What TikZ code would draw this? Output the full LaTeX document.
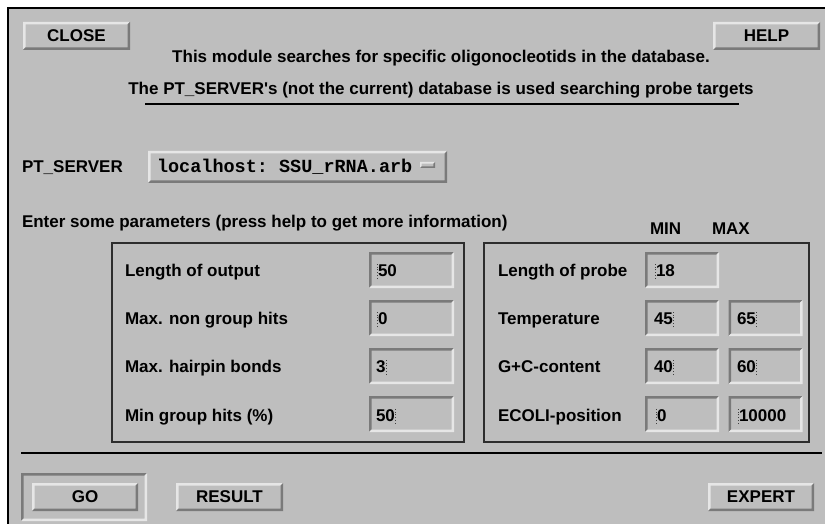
\documentclass[tikz,border=0pt]{standalone}
\usepackage{fontspec}
\setmainfont{Liberation Sans}[Ligatures=TeXOff]
\setmonofont{Liberation Mono}[Ligatures=TeXOff]
\definecolor{bg}{RGB}{190,190,190}
\definecolor{hi}{RGB}{230,230,230}
\definecolor{lo}{RGB}{122,122,122}
\definecolor{framec}{RGB}{45,45,45}
\tikzset{
  every node/.style={inner sep=0pt, outer sep=0pt},
  bevel width/.store in=\bvw, bevel width=2.5pt,
  ui/.style={font=\fontsize{17}{20}\selectfont\bfseries, text=black},
  mono/.style={font=\fontsize{18.5}{22}\selectfont\ttfamily\bfseries, text=black},
  bevelled/.style 2 args={fill=bg, path picture={
    \fill[#1] (path picture bounding box.south west) -- (path picture bounding box.north west)
      -- (path picture bounding box.north east)
      -- ([xshift=-\bvw,yshift=-\bvw]path picture bounding box.north east)
      -- ([xshift=\bvw,yshift=-\bvw]path picture bounding box.north west)
      -- ([xshift=\bvw,yshift=\bvw]path picture bounding box.south west) -- cycle;
    \fill[#2] (path picture bounding box.south west) -- (path picture bounding box.south east)
      -- (path picture bounding box.north east)
      -- ([xshift=-\bvw,yshift=-\bvw]path picture bounding box.north east)
      -- ([xshift=-\bvw,yshift=\bvw]path picture bounding box.south east)
      -- ([xshift=\bvw,yshift=\bvw]path picture bounding box.south west) -- cycle;
  }},
  raised/.style={bevelled={hi}{lo}},
  sunken/.style={bevelled={lo}{hi}},
  btn/.style={raised, minimum width=107pt, minimum height=28pt, ui},
  fieldL/.style={sunken, minimum width=85pt, minimum height=36pt},
  fieldR/.style={sunken, minimum width=74pt, minimum height=36pt},
  groupbox/.style={draw=framec, line width=1.2pt},
  lbl/.style={ui, anchor=base west},
  val/.style={ui, anchor=base west},
  cursor/.style={draw=black!75, line width=0.9pt, dotted},
  heavyline/.style={draw=black, line width=2.6pt},
}
\begin{document}
\begin{tikzpicture}[x=1pt,y=-1pt]
\useasboundingbox (0,0) rectangle (825,524);
\fill[white] (0,0) rectangle (825,524);
\fill[bg] (8,8) rectangle (825,524);
\draw[black, line width=2.4pt] (8,524) -- (8,8) -- (825,8);

% top buttons
\node[btn] (close) at (76.5,36) {CLOSE};
\node[btn] (help) at (766.5,36) {HELP};

% info texts
\node[ui, anchor=base] (info1) at (441,63) {This module searches for specific oligonocleotids in the database.};
\node[ui, anchor=base] (info2) at (441,95) {The PT\_SERVER's (not the current) database is used searching probe targets};
\coordinate (ulA) at (145,104);
\coordinate (ulB) at (739,104);
\draw[heavyline, line width=2.4pt] (ulA) -- (ulB);

% PT server selector
\node[lbl] (ptlabel) at (22,172) {PT\_SERVER};
\node[raised, minimum width=299pt, minimum height=32pt] (ptbox) at (297.5,167) {};
\node[mono, anchor=base west] (ptval) at (157,172) {localhost: SSU\_rRNA.arb};
\node[raised, bevel width=1.6pt, minimum width=15pt, minimum height=6pt] (pticon) at (427.5,165) {};

% parameters header
\node[lbl] (enter) at (22,227) {Enter some parameters (press help to get more information)};
\node[lbl] (minh) at (650,234) {MIN};
\node[lbl] (maxh) at (712,234) {MAX};

% group boxes
\node[groupbox, minimum width=352pt, minimum height=199pt] (gleft) at (288,342.5) {};
\node[groupbox, minimum width=325pt, minimum height=199pt] (gright) at (646.5,342.5) {};

% left labels
\node[lbl] (l1) at (125,276) {Length of output};
\node[lbl] (l2) at (125,324) {Max. non group hits};
\node[lbl] (l3) at (125,372) {Max. hairpin bonds};
\node[lbl] (l4) at (125,421) {Min group hits (\%)};

% left fields
\node[fieldL] (fl1) at (411.5,270) {};
\node[fieldL] (fl2) at (411.5,318) {};
\node[fieldL] (fl3) at (411.5,366) {};
\node[fieldL] (fl4) at (411.5,414) {};
\node[val] (vl1) at (378,276) {50};
\node[val] (vl2) at (378,324) {0};
\node[val] (vl3) at (376,372) {3};
\node[val] (vl4) at (376,421) {50};
\draw[cursor] ([xshift=-1pt,yshift=-3pt]vl1.base west) -- ([xshift=-1pt,yshift=14pt]vl1.base west);
\draw[cursor] ([xshift=-1pt,yshift=-3pt]vl2.base west) -- ([xshift=-1pt,yshift=14pt]vl2.base west);
\draw[cursor] ([xshift=1pt,yshift=-3pt]vl3.base east) -- ([xshift=1pt,yshift=14pt]vl3.base east);
\draw[cursor] ([xshift=1pt,yshift=-3pt]vl4.base east) -- ([xshift=1pt,yshift=14pt]vl4.base east);

% right labels
\node[lbl] (r1) at (498,276) {Length of probe};
\node[lbl] (r2) at (498,324) {Temperature};
\node[lbl] (r3) at (498,372) {G+C-content};
\node[lbl] (r4) at (498,421) {ECOLI-position};

% right fields
\node[fieldR] (fmin1) at (682,270) {};
\node[fieldR] (fmin2) at (682,318) {};
\node[fieldR] (fmin3) at (682,366) {};
\node[fieldR] (fmin4) at (682,414) {};
\node[fieldR] (fmax2) at (765.5,318) {};
\node[fieldR] (fmax3) at (765.5,366) {};
\node[fieldR] (fmax4) at (765.5,414) {};
\node[val] (vmin1) at (656,276) {18};
\node[val] (vmin2) at (654,324) {45};
\node[val] (vmin3) at (654,372) {40};
\node[val] (vmin4) at (657,421) {0};
\node[val] (vmax2) at (737,324) {65};
\node[val] (vmax3) at (737,372) {60};
\node[val] (vmax4) at (739,421) {10000};
\draw[cursor] ([xshift=-1pt,yshift=-3pt]vmin1.base west) -- ([xshift=-1pt,yshift=14pt]vmin1.base west);
\draw[cursor] ([xshift=1pt,yshift=-3pt]vmin2.base east) -- ([xshift=1pt,yshift=14pt]vmin2.base east);
\draw[cursor] ([xshift=1pt,yshift=-3pt]vmin3.base east) -- ([xshift=1pt,yshift=14pt]vmin3.base east);
\draw[cursor] ([xshift=-1pt,yshift=-3pt]vmin4.base west) -- ([xshift=-1pt,yshift=14pt]vmin4.base west);
\draw[cursor] ([xshift=1pt,yshift=-3pt]vmax2.base east) -- ([xshift=1pt,yshift=14pt]vmax2.base east);
\draw[cursor] ([xshift=1pt,yshift=-3pt]vmax3.base east) -- ([xshift=1pt,yshift=14pt]vmax3.base east);
\draw[cursor] ([xshift=-1pt,yshift=-3pt]vmax4.base west) -- ([xshift=-1pt,yshift=14pt]vmax4.base west);

% separator
\coordinate (sepA) at (21,453);
\coordinate (sepB) at (822,453);
\draw[heavyline] (sepA) -- (sepB);

% bottom buttons
\node[sunken, minimum width=126pt, minimum height=48pt] (goframe) at (84,497) {};
\node[btn, minimum width=106pt] (go) at (85,497) {GO};
\node[btn] (result) at (229.5,497) {RESULT};
\node[btn, minimum width=106pt] (expert) at (761,497) {EXPERT};
\end{tikzpicture}
\end{document}
